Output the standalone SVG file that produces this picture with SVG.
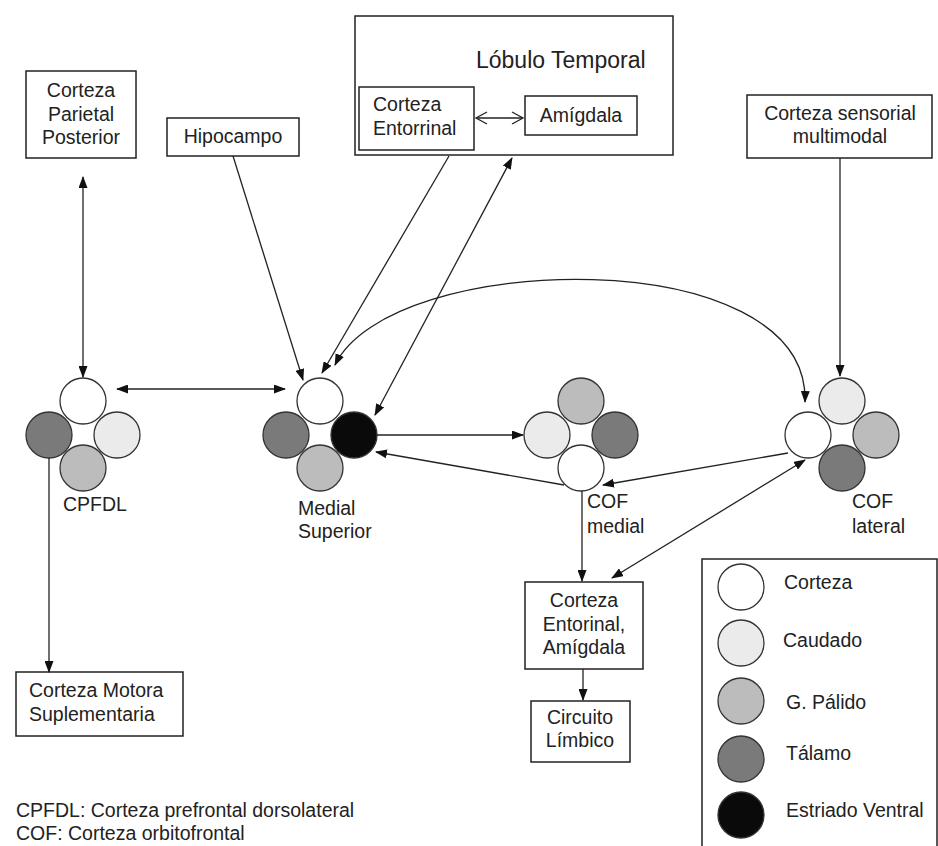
<svg xmlns="http://www.w3.org/2000/svg" width="938" height="846" viewBox="0 0 938 846">
<defs>
<style>
text{font-family:"Liberation Sans",Arial,sans-serif;font-size:19.5px;fill:#222}
.box{fill:#fff;stroke:#222;stroke-width:1.5}
.c{stroke:#333;stroke-width:1.3}
.w{fill:#fff}.cau{fill:#ebebeb}.pal{fill:#bcbcbc}.tal{fill:#7a7a7a}.est{fill:#0a0a0a}
.ln{fill:none;stroke:#222;stroke-width:1.3}
.mid{text-anchor:middle}
</style>
<marker id="ah" markerUnits="userSpaceOnUse" markerWidth="12" markerHeight="9" refX="11" refY="4.5" orient="auto-start-reverse" viewBox="0 0 12 9"><path d="M0,0 L12,4.5 L0,9 z" fill="#111"/></marker>
<marker id="oh" markerUnits="userSpaceOnUse" markerWidth="14" markerHeight="14" refX="12" refY="7" orient="auto-start-reverse" viewBox="0 0 14 14"><path d="M1,1 L12,7 L1,13" fill="none" stroke="#222" stroke-width="1.3"/></marker>
</defs>
<rect width="938" height="846" fill="#fff"/>

<g id="lobulo-temporal">
<rect class="box" x="355" y="16" width="318" height="139"/>
<text x="476" y="68" style="font-size:23px">Lóbulo Temporal</text>
</g>
<g id="corteza-entorrinal">
<rect class="box" x="359" y="87" width="115" height="63"/>
<text x="373" y="111">Corteza</text>
<text x="373" y="135">Entorrinal</text>
</g>
<g id="amigdala">
<rect class="box" x="525" y="96" width="112" height="39"/>
<text class="mid" x="581" y="122">Amígdala</text>
</g>
<g id="parietal">
<rect class="box" x="26" y="71" width="110" height="87"/>
<text class="mid" x="81" y="97">Corteza</text>
<text class="mid" x="81" y="121">Parietal</text>
<text class="mid" x="81" y="144">Posterior</text>
</g>
<g id="hipocampo">
<rect class="box" x="167" y="118" width="132" height="38"/>
<text class="mid" x="233" y="143">Hipocampo</text>
</g>
<g id="sensorial">
<rect class="box" x="747" y="95" width="185" height="63"/>
<text class="mid" x="840" y="120">Corteza sensorial</text>
<text class="mid" x="840" y="143">multimodal</text>
</g>

<g id="cpfdl">
<circle class="c w" cx="83" cy="401" r="23"/>
<circle class="c tal" cx="49" cy="435" r="23"/>
<circle class="c cau" cx="117" cy="435" r="23"/>
<circle class="c pal" cx="83" cy="468" r="23"/>
<text x="63" y="511">CPFDL</text>
</g>
<g id="medial-superior">
<circle class="c w" cx="320" cy="401" r="23"/>
<circle class="c tal" cx="286" cy="435" r="23"/>
<circle class="c est" cx="354" cy="435" r="23"/>
<circle class="c pal" cx="320" cy="468" r="23"/>
<text x="298" y="515">Medial</text>
<text x="298" y="538">Superior</text>
</g>
<g id="cof-medial">
<circle class="c pal" cx="581" cy="401" r="23"/>
<circle class="c cau" cx="547" cy="435" r="23"/>
<circle class="c tal" cx="615" cy="435" r="23"/>
<circle class="c w" cx="581" cy="468" r="23"/>
<text x="587" y="508">COF</text>
<text x="587" y="533">medial</text>
</g>
<g id="cof-lateral">
<circle class="c cau" cx="842" cy="401" r="23"/>
<circle class="c w" cx="808" cy="435" r="23"/>
<circle class="c pal" cx="876" cy="435" r="23"/>
<circle class="c tal" cx="842" cy="468" r="23"/>
<text x="852" y="508">COF</text>
<text x="852" y="533">lateral</text>
</g>

<g id="entorinal-amigdala">
<rect class="box" x="525" y="582" width="118" height="87"/>
<text class="mid" x="584" y="607">Corteza</text>
<text class="mid" x="584" y="631">Entorinal,</text>
<text class="mid" x="584" y="654">Amígdala</text>
</g>
<g id="circuito-limbico">
<rect class="box" x="531" y="701" width="99" height="61"/>
<text class="mid" x="580" y="724">Circuito</text>
<text class="mid" x="580" y="747">Límbico</text>
</g>
<g id="motora">
<rect class="box" x="16" y="672" width="167" height="64"/>
<text x="29" y="697">Corteza Motora</text>
<text x="29" y="721">Suplementaria</text>
</g>

<g id="connectors">
<path class="ln" d="M476,118 L523,118" marker-start="url(#oh)" marker-end="url(#oh)"/>
<path class="ln" d="M83,177 L83,377" marker-start="url(#ah)" marker-end="url(#ah)"/>
<path class="ln" d="M117,389 L285,389" marker-start="url(#ah)" marker-end="url(#ah)"/>
<path class="ln" d="M233,156 L303,380" marker-end="url(#ah)"/>
<path class="ln" d="M449,156 L322,373" marker-end="url(#ah)"/>
<path class="ln" d="M335,365 C390,250 810,240 805,402" marker-start="url(#ah)" marker-end="url(#ah)"/>
<path class="ln" d="M512,158 L375,415" marker-start="url(#ah)" marker-end="url(#ah)"/>
<path class="ln" d="M377,435 L523,435" marker-end="url(#ah)"/>
<path class="ln" d="M564,485 L376,452" marker-end="url(#ah)"/>
<path class="ln" d="M788,453 L603,485" marker-end="url(#ah)"/>
<path class="ln" d="M612,578 L805,460" marker-start="url(#ah)" marker-end="url(#ah)"/>
<path class="ln" d="M582,491 L582,581" marker-end="url(#ah)"/>
<path class="ln" d="M583,669 L583,700" marker-end="url(#ah)"/>
<path class="ln" d="M49,458 L49,672" marker-end="url(#ah)"/>
<path class="ln" d="M840,158 L840,376" marker-end="url(#ah)"/>
</g>

<g id="legend">
<rect class="box" x="702" y="559" width="235" height="300"/>
<circle class="c w" cx="741" cy="587" r="23"/>
<circle class="c cau" cx="741" cy="643" r="23"/>
<circle class="c pal" cx="741" cy="701" r="23"/>
<circle class="c tal" cx="741" cy="759" r="23"/>
<circle class="c est" cx="741" cy="815" r="23"/>
<text x="784" y="589">Corteza</text>
<text x="783" y="647">Caudado</text>
<text x="786" y="709">G. Pálido</text>
<text x="786" y="760">Tálamo</text>
<text x="786" y="817">Estriado Ventral</text>
</g>

<g id="footnote">
<text x="16" y="817">CPFDL: Corteza prefrontal dorsolateral</text>
<text x="16" y="840">COF: Corteza orbitofrontal</text>
</g>
</svg>
